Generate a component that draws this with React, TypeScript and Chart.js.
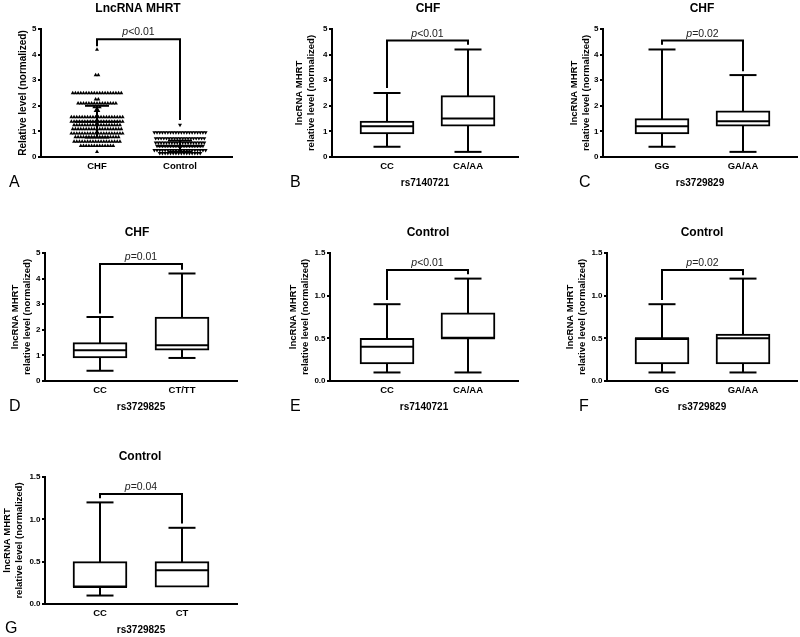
import React, { useEffect, useRef } from 'react';
import { Chart, registerables } from 'chart.js';

Chart.register(...registerables);

const FONT = '"Liberation Sans", Arial, Helvetica, sans-serif';
Chart.defaults.font.family = FONT;
Chart.defaults.color = '#000';

// ---------- Panel A: scatter (rows of identical values) ----------
const scatterGroups = ['CHF', 'Control'];
const chfLevels = [4.2, 3.2, 2.5, 2.25, 2.1, 1.95, 1.8, 1.56, 1.38, 1.25, 1.09, 0.92, 0.78, 0.6, 0.44, 0.2];
const chfCounts = [1, 2, 19, 2, 15, 3, 2, 20, 20, 18, 19, 20, 17, 18, 13, 1];
const controlLevels = [1.25, 0.96, 0.73, 0.56, 0.43, 0.27, 0.15];
const controlCounts = [1, 20, 19, 19, 18, 20, 16];
const scatterMeans = [1.38, 0.42];
const scatterSDs = [0.62, 0.22];
const bracketA = [4.6, 4.33, 1.45];
const pTextA = '<0.01';

// ---------- Box panels: [min, q1, median, q3, max] ----------
const groupsB = ['CC', 'CA/AA'];
const boxesB = [[0.4, 0.9, 1.2, 1.4, 2.5], [0.2, 1.2, 1.5, 2.4, 4.2]];
const bracketB = [4.55, 2.7, 4.38];
const pTextB = '<0.01';

const groupsC = ['GG', 'GA/AA'];
const boxesC = [[0.4, 0.9, 1.2, 1.5, 4.2], [0.2, 1.2, 1.4, 1.8, 3.2]];
const bracketC = [4.55, 4.38, 3.35];
const pTextC = '=0.02';

const groupsD = ['CC', 'CT/TT'];
const boxesD = [[0.4, 0.9, 1.2, 1.5, 2.5], [0.9, 1.2, 1.4, 2.5, 4.2]];
const bracketD = [4.57, 2.64, 4.35];
const pTextD = '=0.01';

const groupsE = ['CC', 'CA/AA'];
const boxesE = [[0.1, 0.2, 0.4, 0.5, 0.9], [0.1, 0.5, 0.5, 0.8, 1.2]];
const bracketE = [1.3, 0.95, 1.25];
const pTextE = '<0.01';

const groupsF = ['GG', 'GA/AA'];
const boxesF = [[0.1, 0.2, 0.5, 0.5, 0.9], [0.1, 0.2, 0.5, 0.55, 1.2]];
const bracketF = [1.3, 0.95, 1.24];
const pTextF = '=0.02';

const groupsG = ['CC', 'CT'];
const boxesG = [[0.1, 0.2, 0.2, 0.5, 1.2], [0.2, 0.2, 0.4, 0.5, 0.9]];
const bracketG = [1.3, 1.25, 0.95];
const pTextG = '=0.04';

const yTitleTwoLine = ['lncRNA MHRT', 'relative level (normalized)'];

interface PanelSpec {
  kind: 'box' | 'scatter';
  left: number; top: number; width: number; height: number;
  axisX: number; areaTop: number; axisY: number; areaRight: number;
  x0: number; x1: number;
  yMax: number; yStep: number; decimals: number;
  title: string; titleX: number; titleY: number;
  letter: string; letterX: number; letterY: number;
  yTitle: string | string[]; yTitleX: number; yTitleSize: number;
  xTitle?: string; xTitleY?: number;
  groups: string[];
  boxes?: number[][];
  bracket: number[]; pText: string;
}

const specs: PanelSpec[] = [
  { kind: 'scatter', left: 0, top: 0, width: 260, height: 200, axisX: 41, areaTop: 29, axisY: 157, areaRight: 232,
    x0: 97, x1: 180, yMax: 5, yStep: 1, decimals: 0, title: 'LncRNA MHRT', titleX: 138, titleY: 9,
    letter: 'A', letterX: 9, letterY: 183, yTitle: 'Relative level (normalized)', yTitleX: 23, yTitleSize: 10,
    groups: scatterGroups, bracket: bracketA, pText: pTextA },
  { kind: 'box', left: 260, top: 0, width: 270, height: 200, axisX: 332, areaTop: 29, axisY: 157, areaRight: 518,
    x0: 387, x1: 468, yMax: 5, yStep: 1, decimals: 0, title: 'CHF', titleX: 428, titleY: 9,
    letter: 'B', letterX: 290, letterY: 183, yTitle: yTitleTwoLine, yTitleX: 299, yTitleSize: 9.5,
    xTitle: 'rs7140721', xTitleY: 183, groups: groupsB, boxes: boxesB, bracket: bracketB, pText: pTextB },
  { kind: 'box', left: 530, top: 0, width: 270, height: 200, axisX: 603, areaTop: 29, axisY: 157, areaRight: 797,
    x0: 662, x1: 743, yMax: 5, yStep: 1, decimals: 0, title: 'CHF', titleX: 702, titleY: 9,
    letter: 'C', letterX: 579, letterY: 183, yTitle: yTitleTwoLine, yTitleX: 574, yTitleSize: 9.5,
    xTitle: 'rs3729829', xTitleY: 183, groups: groupsC, boxes: boxesC, bracket: bracketC, pText: pTextC },
  { kind: 'box', left: 0, top: 200, width: 260, height: 220, axisX: 45, areaTop: 253, axisY: 381, areaRight: 237,
    x0: 100, x1: 182, yMax: 5, yStep: 1, decimals: 0, title: 'CHF', titleX: 137, titleY: 233,
    letter: 'D', letterX: 9, letterY: 407, yTitle: yTitleTwoLine, yTitleX: 15, yTitleSize: 9.5,
    xTitle: 'rs3729825', xTitleY: 407, groups: groupsD, boxes: boxesD, bracket: bracketD, pText: pTextD },
  { kind: 'box', left: 260, top: 200, width: 270, height: 220, axisX: 330, areaTop: 253, axisY: 381, areaRight: 518,
    x0: 387, x1: 468, yMax: 1.5, yStep: 0.5, decimals: 1, title: 'Control', titleX: 428, titleY: 233,
    letter: 'E', letterX: 290, letterY: 407, yTitle: yTitleTwoLine, yTitleX: 293, yTitleSize: 9.5,
    xTitle: 'rs7140721', xTitleY: 407, groups: groupsE, boxes: boxesE, bracket: bracketE, pText: pTextE },
  { kind: 'box', left: 530, top: 200, width: 270, height: 220, axisX: 607, areaTop: 253, axisY: 381, areaRight: 797,
    x0: 662, x1: 743, yMax: 1.5, yStep: 0.5, decimals: 1, title: 'Control', titleX: 702, titleY: 233,
    letter: 'F', letterX: 579, letterY: 407, yTitle: yTitleTwoLine, yTitleX: 570, yTitleSize: 9.5,
    xTitle: 'rs3729829', xTitleY: 407, groups: groupsF, boxes: boxesF, bracket: bracketF, pText: pTextF },
  { kind: 'box', left: 0, top: 420, width: 260, height: 217, axisX: 45, areaTop: 477, axisY: 604, areaRight: 237,
    x0: 100, x1: 182, yMax: 1.5, yStep: 0.5, decimals: 1, title: 'Control', titleX: 140, titleY: 457,
    letter: 'G', letterX: 5, letterY: 629, yTitle: yTitleTwoLine, yTitleX: 7, yTitleSize: 9.5,
    xTitle: 'rs3729825', xTitleY: 630, groups: groupsG, boxes: boxesG, bracket: bracketG, pText: pTextG },
];

function expandRows(levels: number[], counts: number[], center: number, step: number) {
  const pts: { x: number; y: number }[] = [];
  levels.forEach((lv, r) => {
    const n = counts[r];
    for (let i = 0; i < n; i++) pts.push({ x: center + (i - (n - 1) / 2) * step, y: lv });
  });
  return pts;
}

function Panel({ spec }: { spec: PanelSpec }) {
  const ref = useRef<HTMLCanvasElement | null>(null);
  useEffect(() => {
    const s = spec;
    const canvas = ref.current;
    if (!canvas) return;
    const yScaleWidth = s.axisX - s.left;
    const xScaleHeight = s.top + s.height - s.axisY;
    const ppu = s.x1 - s.x0;
    const xMin = -(s.x0 - s.axisX) / ppu;
    const xMax = 1 + (s.areaRight - s.x1) / ppu;
    const yLH = 1.26;
    const yTitlePad = s.yTitleX - s.left - (s.yTitleSize * yLH) / 2;
    const xTitleSize = 10;
    const xTitlePad = s.xTitleY !== undefined ? s.top + s.height - s.xTitleY - (xTitleSize * 1.2) / 2 : 0;

    let datasets: any[];
    if (s.kind === 'box') {
      datasets = [{
        data: (s.boxes || []).map((b, i) => ({ x: i, y: [b[1], b[3]] })),
        backgroundColor: '#fff', borderColor: '#000', borderWidth: 2, borderSkipped: false,
        barThickness: 54,
      }];
    } else {
      const step = 2.7 / ppu;
      datasets = [
        { data: expandRows(chfLevels, chfCounts, 0, step), pointStyle: 'triangle', pointRadius: 2.3,
          pointBackgroundColor: '#000', pointBorderColor: '#000', pointBorderWidth: 0, pointRotation: 0 },
        { data: expandRows(controlLevels, controlCounts, 1, step), pointStyle: 'triangle', pointRadius: 2.3,
          pointBackgroundColor: '#000', pointBorderColor: '#000', pointBorderWidth: 0, pointRotation: 180 },
      ];
    }

    const extras = {
      id: 'panelExtras',
      beforeDatasetsDraw(chart: any) {
        if (s.kind !== 'box') return;
        const { ctx, scales: { x, y } } = chart;
        ctx.save();
        ctx.strokeStyle = '#000';
        ctx.lineWidth = 2;
        (s.boxes || []).forEach((b, i) => {
          const px = x.getPixelForValue(i);
          ctx.beginPath();
          ctx.moveTo(px, y.getPixelForValue(b[0]));
          ctx.lineTo(px, y.getPixelForValue(b[4]));
          ctx.stroke();
        });
        ctx.restore();
      },
      afterDatasetsDraw(chart: any) {
        const { ctx, scales: { x, y } } = chart;
        ctx.save();
        ctx.strokeStyle = '#000';
        ctx.lineWidth = 2;
        const hline = (cx: number, v: number, half: number) => {
          const py = y.getPixelForValue(v);
          ctx.beginPath();
          ctx.moveTo(cx - half, py);
          ctx.lineTo(cx + half, py);
          ctx.stroke();
        };
        if (s.kind === 'box') {
          (s.boxes || []).forEach((b, i) => {
            const px = x.getPixelForValue(i);
            hline(px, b[2], 27);
            if (b[0] < b[1]) hline(px, b[0], 13.5);
            if (b[4] > b[3]) hline(px, b[4], 13.5);
          });
        } else {
          scatterMeans.forEach((m, i) => {
            const px = x.getPixelForValue(i);
            const sd = scatterSDs[i];
            ctx.beginPath();
            ctx.moveTo(px, y.getPixelForValue(m - sd));
            ctx.lineTo(px, y.getPixelForValue(m + sd));
            ctx.stroke();
            hline(px, m, 22);
            hline(px, m - sd, 12);
            hline(px, m + sd, 12);
          });
        }
        // significance bracket
        const [lvl, l0, l1] = s.bracket;
        const xa = x.getPixelForValue(0);
        const xb = x.getPixelForValue(1);
        const yb = y.getPixelForValue(lvl);
        ctx.lineJoin = 'miter';
        ctx.beginPath();
        ctx.moveTo(xa, y.getPixelForValue(l0));
        ctx.lineTo(xa, yb);
        ctx.lineTo(xb, yb);
        ctx.lineTo(xb, y.getPixelForValue(l1));
        ctx.stroke();
        ctx.fillStyle = '#222';
        ctx.textBaseline = 'alphabetic';
        ctx.textAlign = 'left';
        ctx.font = `italic 10.5px ${FONT}`;
        const w1 = ctx.measureText('p').width;
        ctx.font = `10.5px ${FONT}`;
        const w2 = ctx.measureText(s.pText).width;
        const sx = (xa + xb) / 2 - (w1 + w2) / 2;
        ctx.font = `italic 10.5px ${FONT}`;
        ctx.fillText('p', sx, yb - 4);
        ctx.font = `10.5px ${FONT}`;
        ctx.fillText(s.pText, sx + w1, yb - 4);
        ctx.restore();
      },
      afterDraw(chart: any) {
        const { ctx } = chart;
        ctx.save();
        ctx.fillStyle = '#000';
        ctx.textBaseline = 'middle';
        ctx.textAlign = 'center';
        ctx.font = `bold 12px ${FONT}`;
        ctx.fillText(s.title, s.titleX - s.left, s.titleY - s.top);
        ctx.textAlign = 'left';
        ctx.font = `16px ${FONT}`;
        ctx.fillText(s.letter, s.letterX - s.left, s.letterY - s.top);
        ctx.restore();
      },
    };

    const chart = new Chart(canvas, {
      type: s.kind === 'box' ? 'bar' : 'scatter',
      data: { datasets },
      options: {
        responsive: false,
        animation: false,
        events: [],
        layout: { padding: { top: s.areaTop - s.top, right: s.left + s.width - s.areaRight, left: 0, bottom: 0 } },
        plugins: { legend: { display: false }, tooltip: { enabled: false }, title: { display: false } },
        scales: {
          x: {
            type: 'linear',
            min: xMin,
            max: xMax,
            offset: false,
            afterBuildTicks: (sc: any) => { sc.ticks = s.groups.map((_, i) => ({ value: i })); },
            afterFit: (sc: any) => { sc.height = xScaleHeight; },
            ticks: {
              autoSkip: false, maxRotation: 0, padding: 4, color: '#000',
              font: { size: 9.5, weight: 'bold' },
              callback: (v: any) => s.groups[Math.round(Number(v))] ?? '',
            },
            grid: { display: false, drawTicks: false, offset: false },
            border: { display: true, color: '#000', width: 2 },
            title: {
              display: !!s.xTitle, text: s.xTitle || '', color: '#000',
              font: { size: xTitleSize, weight: 'bold', lineHeight: 1.2 },
              padding: { top: 0, bottom: xTitlePad },
            },
          },
          y: {
            type: 'linear',
            min: 0,
            max: s.yMax,
            afterFit: (sc: any) => { sc.width = yScaleWidth; },
            ticks: {
              stepSize: s.yStep, padding: 1.5, color: '#000',
              font: { size: 8, weight: 'bold' },
              callback: (v: any) => Number(v).toFixed(s.decimals),
            },
            grid: { display: true, drawOnChartArea: false, drawTicks: true, tickLength: 3, color: '#000', lineWidth: 2 },
            border: { display: true, color: '#000', width: 2 },
            title: {
              display: true, text: s.yTitle as any, color: '#000',
              font: { size: s.yTitleSize, weight: 'bold', lineHeight: yLH },
              padding: { top: yTitlePad, bottom: 0 },
            },
          },
        },
      } as any,
      plugins: [extras],
    });
    return () => chart.destroy();
  }, [spec]);

  return (
    <canvas
      ref={ref}
      width={spec.width}
      height={spec.height}
      style={{ position: 'absolute', left: spec.left, top: spec.top, width: spec.width, height: spec.height }}
    />
  );
}

export default function App() {
  return (
    <div style={{ position: 'absolute', left: 0, top: 0, width: 800, height: 637, background: '#fff', overflow: 'hidden' }}>
      {specs.map((s, i) => <Panel key={i} spec={s} />)}
    </div>
  );
}
